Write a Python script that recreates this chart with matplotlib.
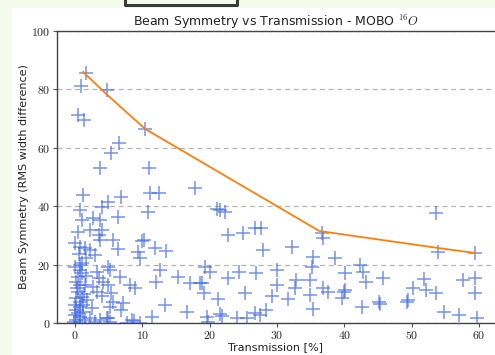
import numpy as np
import matplotlib.pyplot as plt
from matplotlib.patches import Rectangle
from matplotlib.lines import Line2D

plt.rcParams['mathtext.fontset'] = 'cm'
plt.rcParams['font.family'] = 'DejaVu Sans'

# scatter of all evaluated samples: transmission [%], beam symmetry
trans = [1.7, 0.85, 4.7, 0.5, 1.3, 10.4, 6.6, 5.4, 3.7, 11.0,
         11.2, 1.2, 6.9, 12.5, 17.8, 4.9, 0.7, 4.0, 10.9, 1.0,
         2.7, 3.7, 6.4, 0.5, 2.2, 4.0, 3.5, 3.7, 0.0, 5.7,
         9.9, 0.7, 1.5, 2.2, 6.4, 11.9, 13.5, 9.3, 3.0, 1.7,
         9.7, 0.7, 0.0, 4.9, 19.3, 0.7, 3.2, 5.2, 12.6, 6.7,
         12.1, 15.3, 0.5, 1.7, 3.5, 4.2, 0.7, 1.5, 2.7, 4.9,
         8.2, 8.9, 17.1, 18.6, 19.1, 3.2, 4.0, 5.4, 0.2, 0.7,
         5.7, 7.2, 5.2, 6.9, 13.4, 16.6, 0.0, 0.7, 0.2, 1.2,
         0.0, 0.7, 2.2, 3.7, 4.9, 8.7, 11.4, 19.6, 0.2, -0.2,
         7.7, 9.7, 3.0, 5.2, 21.1, 21.6, 22.3, 22.8, 25.0, 10.2,
         26.7, 27.7, 28.0, 32.2, 36.7, 36.9, 35.4, 35.2, 38.6, 40.1,
         20.1, 18.8, 22.8, 24.4, 26.9, 30.0, 30.0, 29.2, 32.9, 32.7,
         31.7, 34.9, 34.9, 35.4, 36.9, 37.6, 39.9, 39.6, 25.3, 21.3,
         26.7, 28.4, 27.5, 25.5, 24.1, 21.8, 19.8, 21.5, 8.4, 4.7,
         53.7, 54.0, 59.4, 42.3, 42.8, 43.2, 45.8, 40.1, 42.6, 45.1,
         45.3, 49.5, 49.3, 50.2, 51.9, 52.2, 53.7, 54.8, 57.0, 57.6,
         59.4, 59.4, 59.7, 0.3, 1.0, 0.5, 1.2, 0.8, 1.5, 0.2,
         1.8, 2.5, 1.0, 0.4, 1.1, 0.6, 1.4]
symm = [85.5, 81.3, 79.8, 71.2, 69.5, 66.3, 61.5, 58.1, 53.0, 53.0,
        44.6, 43.8, 43.3, 44.6, 46.1, 41.5, 38.7, 39.8, 38.1, 35.3,
        35.8, 35.3, 36.4, 31.3, 31.8, 31.8, 30.1, 28.4, 27.5, 28.4,
        28.2, 26.1, 25.6, 25.0, 25.2, 25.6, 24.8, 24.4, 23.3, 22.1,
        22.1, 19.9, 19.3, 19.3, 19.3, 18.2, 17.6, 18.2, 18.2, 15.9,
        14.1, 15.6, 15.9, 16.1, 15.3, 14.1, 13.0, 13.0, 12.4, 13.0,
        13.0, 11.9, 13.6, 13.6, 10.4, 10.7, 9.2, 10.2, 8.5, 7.3,
        7.3, 6.7, 5.6, 4.5, 6.2, 3.9, 6.2, 5.6, 4.5, 3.9,
        2.7, 2.2, 1.6, 1.0, 1.6, 0.8, 2.2, 2.2, 1.0, 0.5,
        0.1, 0.1, 0.5, 0.5, 38.9, 38.7, 38.1, 30.1, 30.9, 28.4,
        32.7, 32.7, 25.0, 26.1, 30.9, 29.0, 22.7, 19.3, 22.1, 17.0,
        17.6, 13.8, 15.3, 17.6, 17.0, 18.2, 13.0, 9.2, 14.7, 11.9,
        8.1, 14.7, 9.6, 4.7, 11.9, 10.7, 10.7, 8.5, 10.2, 8.1,
        3.3, 4.5, 2.7, 1.6, 1.6, 2.4, 0.5, 3.1, 1.0, 1.6,
        37.6, 24.4, 23.9, 19.9, 17.6, 14.1, 15.5, 11.3, 5.4, 7.3,
        6.5, 7.9, 7.3, 11.9, 15.1, 11.3, 10.4, 3.9, 2.7, 14.7,
        15.3, 10.2, 1.6, 12.0, 9.0, 3.5, 6.0, 0.3, 1.0, 14.0,
        8.0, 5.0, 17.0, 10.5, 20.5, 23.5, 9.8]

# pareto front
front_x = [1.2, 4.7, 10.4, 36.3, 53.9, 59.4]
front_y = [86.0, 78.3, 66.5, 31.5, 25.7, 24.0]

fig = plt.figure(figsize=(4.95, 3.55), dpi=100, facecolor='#f4fbea')
fig.patches.append(Rectangle((12 / 495, 0), 1, 1 - 8 / 355,
                             transform=fig.transFigure, facecolor='white',
                             edgecolor='none', zorder=-10))
# piece of the page above the figure
bx = [125 / 495, 125 / 495, 237 / 495, 237 / 495]
by = [1.0, 1 - 5 / 355, 1 - 5 / 355, 1.0]
fig.lines.append(Line2D(bx, by, transform=fig.transFigure, color='#3a3a3a', lw=2.2))

ax = fig.add_axes([57 / 495, 32 / 355, 1 - 57 / 495, (323 - 31) / 355])
ax.grid(axis='y', color='#b5b5b5', ls='--', lw=0.9, dashes=(4, 3))
ax.set_axisbelow(True)

ax.plot(trans, symm, '+', color='royalblue', alpha=0.72, ms=10, mew=1.1, ls='none')
ax.plot(front_x, front_y, '-', color='#ff7f0e', lw=1.3)

ax.set_xlim(-2.67, 62.4)
ax.set_ylim(0, 100)
ax.set_xticks([0, 10, 20, 30, 40, 50, 60])
ax.set_yticks([0, 20, 40, 60, 80, 100])
ax.set_xticklabels([f'${v}$' for v in [0, 10, 20, 30, 40, 50, 60]])
ax.set_yticklabels([f'${v}$' for v in [0, 20, 40, 60, 80, 100]])
ax.tick_params(direction='out', length=3, width=0.8, colors='#555555',
               labelcolor='#222222', labelsize=8.5, pad=1.5)

for s in ['left', 'bottom', 'top']:
    ax.spines[s].set_color('#444444')
    ax.spines[s].set_linewidth(1.0)
ax.spines['right'].set_visible(False)

ax.set_title('Beam Symmetry vs Transmission - MOBO $^{16}O$', fontsize=9,
             color='#222222', pad=3)
ax.set_xlabel('Transmission [%]', fontsize=8, color='#222222', labelpad=0)
ax.set_ylabel('Beam Symmetry (RMS width difference)', fontsize=8,
              color='#222222', labelpad=2)

fig.savefig('out.png', dpi=100, facecolor=fig.get_facecolor())
